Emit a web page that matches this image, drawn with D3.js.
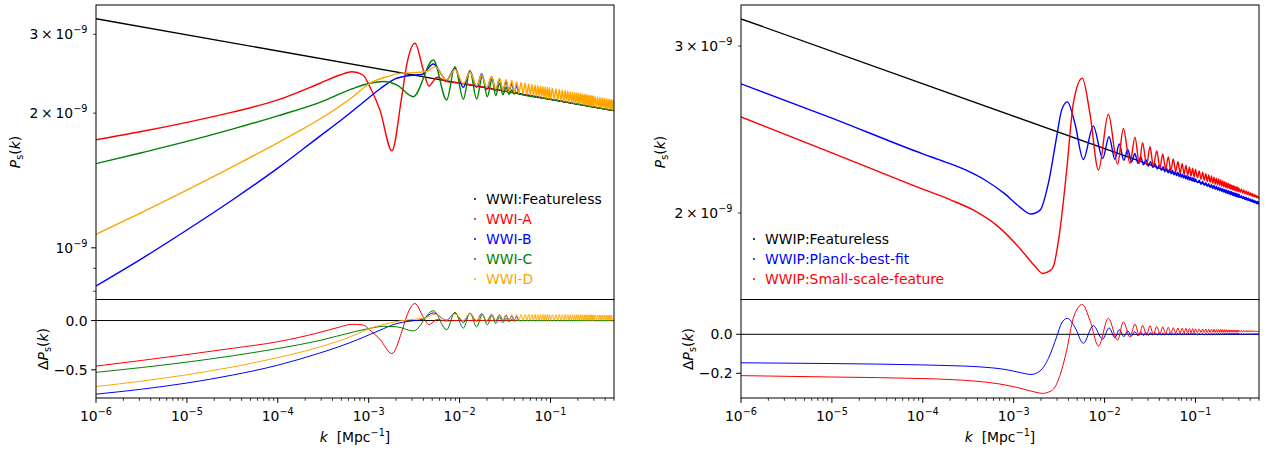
<!DOCTYPE html>
<html><head><meta charset="utf-8">
<script src="https://cdn.jsdelivr.net/npm/d3@7"></script>
<style>body{margin:0;background:#fff}svg{display:block}text{font-family:"DejaVu Sans",sans-serif;}</style>
</head><body>
<script>
// ---------------- DATA (P in units of 1e-9, dP = P/P0 - 1) ----------------
// shared dense k grid for the high-k oscillation bands
const kDenseLowL = [0.0225,0.025,0.0275,0.03,0.0325,0.035,0.0375,0.04,0.0425,0.045,0.0475,0.05,0.0525,0.055,0.0575,0.06,0.0625,0.065,0.0675,0.07,0.0725,0.075,0.0775,0.08,0.0825,0.085,0.0875,0.09,0.0925,0.095,0.0975,0.1];
const kDenseHigh = [0.105,0.11,0.115,0.12,0.125,0.13,0.135,0.14,0.145,0.15,0.155,0.16,0.165,0.17,0.175,0.18,0.185,0.19,0.195,0.2,0.205,0.21,0.215,0.22,0.225,0.23,0.235,0.24,0.245,0.25,0.255,0.26,0.265,0.27,0.275,0.28,0.285,0.29,0.295,0.3,0.31,0.32,0.33,0.34,0.35,0.36,0.37,0.38,0.39,0.4,0.41,0.42,0.43,0.44,0.45,0.46,0.47,0.48,0.49,0.5];

// Left panel: WWI
const kBlackL = [1e-6, 0.5];
const pBlackL = [3.25, 2.026];
const dBlackL = [0, 0];

const kRedL = [1e-6,3.16e-6,1e-5,3.16e-5,1e-4,2.91e-4,4.83e-4,6.55e-4,8.65e-4,1.03e-3,1.33e-3,1.80e-3,2.31e-3,2.62e-3,3.23e-3,3.99e-3,4.60e-3,5.64e-3,7.08e-3,1e-2,0.03,0.5];
const pRedL = [1.744,1.819,1.907,2.010,2.140,2.332,2.433,2.475,2.433,2.291,2.032,1.648,2.176,2.562,2.864,2.497,2.300,2.405,2.355,2.335,2.243,2.026];
const dRedL = [-0.463,-0.405,-0.345,-0.282,-0.215,-0.12,-0.065,-0.038,-0.045,-0.096,-0.19,-0.336,-0.115,0.046,0.172,0.036,-0.041,0.01,-0.004,0.001,0,0];

const kBlueL = [1e-6,3.16e-6,1e-5,3.16e-5,1e-4,2.91e-4,4.83e-4,8.02e-4,1.33e-3,1.95e-3,2.84e-3,3.85e-3,5.14e-3,7.21e-3,8.89e-3,1.10e-2,1.30e-2,1.54e-2,1.75e-2,1.99e-2,2.25e-2,0.025,0.0275,0.03,0.0325,0.035,0.0375,0.04,0.0425,0.045,0.06,0.5];
const pBlueL = [0.822,0.945,1.096,1.279,1.507,1.777,1.920,2.085,2.264,2.384,2.427,2.440,2.575,2.371,2.519,2.284,2.484,2.284,2.446,2.260,2.408,2.248,2.381,2.243,2.352,2.235,2.327,2.227,2.304,2.211,2.188,2.026];
const dBlueL = [-0.747,-0.697,-0.634,-0.554,-0.453,-0.329,-0.262,-0.184,-0.098,-0.036,-0.006,0.010,0.077,0.004,0.075,-0.018,0.074,-0.006,0.070,-0.007,0.063,-0.004,0.058,0,0.052,0.002,0.046,0.003,0.04,0,0,0];

const kGreenL = [1e-6,3.16e-6,1e-5,3.16e-5,1e-4,2.91e-4,6.78e-4,1.03e-3,1.47e-3,2.05e-3,3.10e-3,5.14e-3,7.21e-3,8.89e-3,1.10e-2,1.30e-2,1.54e-2,1.78e-2,2.02e-2,0.0228,0.025,0.0275,0.03,0.0325,0.035,0.0375,0.04,0.0425,0.045,0.1,0.5];
const pGreenL = [1.542,1.631,1.729,1.842,1.972,2.114,2.272,2.332,2.353,2.311,2.176,2.629,2.139,2.540,2.147,2.487,2.149,2.421,2.176,2.383,2.189,2.329,2.198,2.285,2.204,2.252,2.207,2.224,2.211,2.147,2.026];
const dGreenL = [-0.526,-0.477,-0.422,-0.358,-0.284,-0.202,-0.116,-0.079,-0.059,-0.064,-0.106,0.100,-0.094,0.084,-0.077,0.076,-0.064,0.060,-0.044,0.052,-0.03,0.035,-0.02,0.022,-0.012,0.012,-0.006,0.004,0,0,0];

const kOrangeLA = [1e-6,3.16e-6,1e-5,3.16e-5,1e-4,1.75e-4,2.91e-4,6.71e-4,1.03e-3,1.59e-3,2.21e-3,3.40e-3,4.38e-3,5.36e-3,7.21e-3,8.89e-3,1.10e-2,1.30e-2,1.54e-2,1.75e-2,1.99e-2];
const pOrangeLA = [1.072,1.199,1.345,1.516,1.717,1.827,1.940,2.176,2.332,2.412,2.454,2.465,2.48,2.540,2.371,2.503,2.323,2.471,2.30,2.433,2.279];
const dOrangeLA = [-0.670,-0.615,-0.550,-0.472,-0.376,-0.323,-0.268,-0.154,-0.079,-0.032,-0.004,0.016,0.032,0.065,0.004,0.068,-0.001,0.069,0.001,0.064,0.001];
const pOrangeLB = [2.411,2.262,2.392,2.247,2.377,2.235,2.365,2.224,2.352,2.215,2.343,2.206,2.335,2.199,2.325,2.192,2.318,2.186,2.312,2.180,2.303,2.174,2.298,2.169,2.293,2.165,2.287,2.160,2.283,2.155,2.278,2.151,
  2.272,2.144,2.265,2.138,2.258,2.131,2.252,2.126,2.246,2.120,2.239,2.115,2.233,2.110,2.228,2.106,2.224,2.102,2.221,2.099,2.216,2.095,2.212,2.092,2.207,2.089,2.204,2.085,2.201,2.082,2.197,2.079,2.194,2.076,2.191,2.074,2.188,2.071,2.186,2.068,
  2.180,2.063,2.174,2.059,2.169,2.054,2.164,2.050,2.160,2.046,2.154,2.042,2.150,2.039,2.148,2.036,2.144,2.032,2.141,2.030];
const dOrangeLB = [0.064,0.002,0.063,0.002,0.063,0.002,0.063,0.002,0.062,0.002,0.062,0.002,0.062,0.002,0.061,0.002,0.061,0.002,0.061,0.002,0.060,0.002,0.060,0.002,0.060,0.002,0.060,0.002,0.060,0.002,0.060,0.002,
  0.060,0.002,0.060,0.002,0.060,0.002,0.060,0.002,0.060,0.002,0.059,0.002,0.059,0.002,0.059,0.002,0.059,0.002,0.059,0.002,0.059,0.002,0.059,0.002,0.058,0.002,0.058,0.002,0.058,0.002,0.058,0.002,0.058,0.002,0.058,0.002,0.058,0.002,
  0.057,0.002,0.057,0.002,0.057,0.002,0.057,0.002,0.057,0.002,0.056,0.002,0.056,0.002,0.056,0.002,0.056,0.002,0.056,0.002];

// Right panel: WWIP
const kBlackR = [1e-6, 0.5];
const pBlackR = [3.205, 2.046];
const dBlackR = [0, 0];

const kBlueRA = [1e-6,1e-5,1e-4,1.75e-4,2.91e-4,4.83e-4,8.02e-4,1.17e-3,1.55e-3,1.95e-3,2.41e-3,2.97e-3,3.37e-3,3.89e-3,4.72e-3,5.83e-3,7.52e-3,9.53e-3,1.12e-2,1.30e-2,1.45e-2,1.63e-2,1.80e-2,1.98e-2,2.15e-2,2.33e-2,2.50e-2,2.68e-2,2.85e-2,3.03e-2,3.2e-2,
  0.034,0.036,0.038,0.04,0.042,0.044,0.046,0.048,0.05,0.052,0.054,0.056,0.058,0.06,0.062,0.064,0.066,0.068,0.07,0.072,0.074,0.076,0.078,0.08,0.082,0.084,0.086,0.088,0.09,0.092,0.094,0.096,0.098,0.1];
const pBlueRA = [2.737,2.519,2.309,2.265,2.222,2.167,2.095,2.029,1.995,2.014,2.151,2.407,2.568,2.62,2.486,2.278,2.47,2.284,2.407,2.278,2.365,2.273,2.334,2.264,2.311,2.256,2.292,2.248,2.277,2.241,2.266,
  2.234,2.254,2.226,2.246,2.218,2.238,2.211,2.231,2.205,2.225,2.200,2.219,2.194,2.213,2.190,2.208,2.185,2.203,2.181,2.198,2.177,2.194,2.173,2.190,2.170,2.186,2.166,2.182,2.163,2.179,2.160,2.176,2.157,2.173];
const dBlueRA = [-0.146,-0.150,-0.157,-0.160,-0.163,-0.169,-0.180,-0.196,-0.206,-0.188,-0.124,-0.013,0.058,0.082,0.036,-0.046,0.045,-0.025,0.033,-0.017,0.024,-0.012,0.018,-0.009,0.014,-0.007,0.011,-0.006,0.009,-0.005,0.008,
  -0.004,0.007,-0.004,0.007,-0.004,0.0068,-0.0038,0.0066,-0.0038,0.0064,-0.0036,0.0062,-0.0036,0.006,-0.0034,0.0058,-0.0034,0.0056,-0.0032,0.0055,-0.0032,0.0054,-0.0032,0.0053,-0.003,0.0052,-0.003,0.0051,-0.003,0.005,-0.003,0.005,-0.003,0.005];
const pBlueRB = [2.152,2.166,2.145,2.159,2.139,2.153,2.134,2.148,2.128,2.143,2.123,2.138,2.119,2.134,2.115,2.130,2.111,2.126,2.107,2.122,2.103,2.118,2.100,2.115,2.097,2.112,2.094,2.109,2.091,2.106,2.088,2.103,2.085,2.100,2.082,2.098,2.080,2.095,2.077,2.093,
  2.076,2.086,2.071,2.082,2.067,2.078,2.063,2.074,2.060,2.070,2.056,2.067,2.053,2.063,2.050,2.060,2.047,2.057,2.044,2.054];
const dBlueRB = [-0.003,0.005,-0.003,0.005,-0.003,0.005,-0.003,0.005,-0.003,0.005,-0.003,0.005,-0.003,0.005,-0.003,0.005,-0.003,0.005,-0.003,0.005,-0.003,0.005,-0.003,0.005,-0.003,0.005,-0.003,0.005,-0.003,0.005,-0.003,0.005,-0.003,0.005,-0.003,0.005,-0.003,0.005,-0.003,0.005,
  -0.002,0.004,-0.002,0.004,-0.002,0.004,-0.002,0.004,-0.002,0.004,-0.002,0.004,-0.002,0.004,-0.002,0.004,-0.002,0.004,-0.002,0.004];

const kRedRA = [1e-6,1e-5,1e-4,1.99e-4,3.75e-4,7.06e-4,1.17e-3,1.71e-3,2.08e-3,2.51e-3,2.73e-3,3.23e-3,3.83e-3,4.53e-3,5.69e-3,6.90e-3,8.57e-3,1.10e-2,1.39e-2,1.61e-2,1.90e-2,2.16e-2,2.41e-2,2.62e-2,2.90e-2,3.16e-2,3.44e-2,3.75e-2,4.07e-2,4.36e-2,4.7e-2,5.02e-2,5.36e-2,5.70e-2,0.0606,0.0642,0.0678,0.0714,0.075,0.0786,0.0822,0.0858,0.0894,0.093,0.0966,0.1];
const pRedRA = [2.526,2.315,2.119,2.066,2.010,1.928,1.835,1.758,1.727,1.739,1.756,1.919,2.220,2.610,2.775,2.547,2.220,2.542,2.252,2.456,2.256,2.404,2.256,2.372,2.247,2.349,2.241,2.326,2.232,2.308,2.225,2.292,2.218,2.280,2.212,2.265,2.204,2.255,2.198,2.245,2.192,2.236,2.188,2.230,2.182,2.223];
const dRedRA = [-0.212,-0.219,-0.227,-0.232,-0.240,-0.255,-0.276,-0.296,-0.303,-0.293,-0.282,-0.211,-0.0815,0.083,0.153,0.072,-0.060,0.082,-0.030,0.064,-0.015,0.052,-0.006,0.046,-0.004,0.044,-0.001,0.040,0.001,0.038,0.003,0.036,0.004,0.034,0.006,0.032,0.006,0.031,0.007,0.030,0.007,0.029,0.008,0.029,0.008,0.028];
const pRedRB = [2.178,2.215,2.171,2.208,2.165,2.201,2.159,2.194,2.155,2.188,2.150,2.182,2.145,2.177,2.142,2.172,2.138,2.167,2.134,2.162,2.131,2.158,2.127,2.153,2.124,2.149,2.122,2.145,2.119,2.141,2.116,2.138,2.114,2.135,2.111,2.132,2.109,2.129,2.106,2.126,
  2.103,2.121,2.099,2.115,2.095,2.110,2.092,2.106,2.088,2.101,2.085,2.097,2.082,2.093,2.079,2.089,2.077,2.085,2.074,2.081];
const dRedRB = [0.009,0.028,0.009,0.0275,0.009,0.027,0.009,0.0265,0.0095,0.026,0.0095,0.0255,0.0095,0.0252,0.0097,0.0248,0.0098,0.0244,0.0099,0.024,0.010,0.0236,0.010,0.0232,0.0102,0.0228,0.0104,0.0224,0.0105,0.022,0.0106,0.0218,0.0107,0.0216,0.0108,0.0214,0.0109,0.0212,0.011,0.021,
  0.011,0.0206,0.0113,0.0202,0.0115,0.0198,0.0117,0.0194,0.0119,0.019,0.0121,0.0186,0.0123,0.0182,0.0125,0.0178,0.0127,0.0174,0.0129,0.017];

const xTickExps = [-6,-5,-4,-3,-2,-1];
const legendL = ["WWI:Featureless","WWI-A","WWI-B","WWI-C","WWI-D"];
const legendR = ["WWIP:Featureless","WWIP:Planck-best-fit","WWIP:Small-scale-feature"];

// ---------------- DRAWING ----------------
const W = 1266, H = 452, FS = 13.9;
const svg = d3.select("body").append("svg").attr("width", W).attr("height", H);
svg.append("rect").attr("width", W).attr("height", H).attr("fill", "#fff");

function mathText(g, x, y, parts, anchor) {
  const t = g.append("text").attr("x", x).attr("y", y).attr("text-anchor", anchor || "start")
    .attr("font-size", FS).attr("fill", "#000");
  let shift = 0;
  parts.forEach(p => {
    const ts = t.append("tspan").text(p.t);
    let target = p.sup ? -6 : (p.sub ? 3 : 0);
    if (target !== shift) { ts.attr("dy", target - shift); shift = target; }
    if (p.sup || p.sub) ts.attr("font-size", FS * 0.7);
    if (p.it) ts.attr("font-style", "italic");
  });
  return t;
}

function drawPanel(cfg) {
  const yMid = 299.5, yTop = 5, yBot = 398;
  const x = d3.scaleLog().domain([1e-6, 0.5]).range([cfg.x0, cfg.x1]);
  const yT = d3.scaleLog().domain(cfg.topDom).range([yMid, yTop]);
  const yB = d3.scaleLinear().domain(cfg.botDom).range([yBot, yMid]);
  const g = svg.append("g");
  const id = cfg.id;
  const defs = svg.append("defs");
  defs.append("clipPath").attr("id", id + "t").append("rect")
    .attr("x", cfg.x0).attr("y", yTop).attr("width", cfg.x1 - cfg.x0).attr("height", yMid - yTop);
  defs.append("clipPath").attr("id", id + "b").append("rect")
    .attr("x", cfg.x0).attr("y", yMid).attr("width", cfg.x1 - cfg.x0).attr("height", yBot - yMid);

  const gt = g.append("g").attr("clip-path", `url(#${id}t)`);
  const gb = g.append("g").attr("clip-path", `url(#${id}b)`);
  cfg.series.forEach(s => {
    const idx = d3.range(s.k.length);
    const lt = d3.line().x(i => x(s.k[i])).y(i => yT(s.p[i])).curve(d3.curveMonotoneX);
    const lb = d3.line().x(i => x(s.k[i])).y(i => yB(s.d[i])).curve(d3.curveMonotoneX);
    gt.append("path").attr("d", lt(idx)).attr("fill", "none").attr("stroke", s.c).attr("stroke-width", 1.4);
    gb.append("path").attr("d", lb(idx)).attr("fill", "none").attr("stroke", s.c).attr("stroke-width", 1.0);
  });

  // frames
  g.append("rect").attr("x", cfg.x0).attr("y", yTop).attr("width", cfg.x1 - cfg.x0).attr("height", yMid - yTop)
    .attr("fill", "none").attr("stroke", "#000").attr("stroke-width", 1);
  g.append("rect").attr("x", cfg.x0).attr("y", yMid).attr("width", cfg.x1 - cfg.x0).attr("height", yBot - yMid)
    .attr("fill", "none").attr("stroke", "#000").attr("stroke-width", 1);

  // x ticks (bottom panel)
  const ax = g.append("g");
  xTickExps.forEach(e => {
    const v = Math.pow(10, e);
    ax.append("line").attr("x1", x(v)).attr("x2", x(v)).attr("y1", yBot).attr("y2", yBot + 4.9).attr("stroke", "#000").attr("stroke-width", 1);
    mathText(ax, x(v), 420.5, [{t: "10"}, {t: "\u2212" + (-e), sup: true}], "middle");
    for (let m = 2; m <= 9; m++) {
      const vm = m * v;
      if (vm > 0.5 + 1e-9) break;
      ax.append("line").attr("x1", x(vm)).attr("x2", x(vm)).attr("y1", yBot).attr("y2", yBot + 2.8).attr("stroke", "#000").attr("stroke-width", 0.8);
    }
  });
  const xc = (cfg.x0 + cfg.x1) / 2;
  mathText(ax, xc, 441.5, [{t: "k", it: true}, {t: "\u00a0\u00a0[Mpc"}, {t: "\u22121", sup: true}, {t: "]"}], "middle");

  // y ticks top
  cfg.topTicks.forEach(tk => {
    const len = tk.major ? 4.9 : 2.8;
    ax.append("line").attr("x1", cfg.x0 - len).attr("x2", cfg.x0).attr("y1", yT(tk.v)).attr("y2", yT(tk.v)).attr("stroke", "#000").attr("stroke-width", tk.major ? 1 : 0.8);
    if (tk.lab) mathText(ax, cfg.x0 - 8.5, yT(tk.v) + 5, [{t: tk.lab}, {t: "\u22129", sup: true}], "end");
  });
  // y ticks bottom
  cfg.botTicks.forEach(tk => {
    ax.append("line").attr("x1", cfg.x0 - 4.9).attr("x2", cfg.x0).attr("y1", yB(tk.v)).attr("y2", yB(tk.v)).attr("stroke", "#000").attr("stroke-width", 1);
    mathText(ax, cfg.x0 - 8.5, yB(tk.v) + 5, [{t: tk.lab}], "end");
  });

  // y labels
  const yl1 = mathText(ax, 0, 0, [{t: "P", it: true}, {t: "s", sub: true}, {t: "("}, {t: "k", it: true}, {t: ")"}], "middle");
  yl1.attr("transform", `translate(${cfg.ylabT},152) rotate(-90)`);
  const yl2 = mathText(ax, 0, 0, [{t: "\u0394"}, {t: "P", it: true}, {t: "s", sub: true}, {t: "("}, {t: "k", it: true}, {t: ")"}], "middle");
  yl2.attr("transform", `translate(${cfg.ylabB},349) rotate(-90)`);

  // legend
  cfg.legend.forEach((lg, i) => {
    const yy = cfg.legY0 + i * 20;
    ax.append("line").attr("x1", cfg.legX - 12).attr("x2", cfg.legX - 10).attr("y1", yy).attr("y2", yy).attr("stroke", lg.c).attr("stroke-width", 1.4);
    ax.append("text").attr("x", cfg.legX).attr("y", yy + 5).attr("font-size", FS).attr("fill", lg.c).text(lg.t);
  });
}

drawPanel({
  id: "L", x0: 96, x1: 614,
  topDom: [0.7666, 3.488], botDom: [-0.786, 0.2135],
  series: [
    {k: kBlackL, p: pBlackL, d: dBlackL, c: "black"},
    {k: kRedL, p: pRedL, d: dRedL, c: "red"},
    {k: kBlueL, p: pBlueL, d: dBlueL, c: "blue"},
    {k: kGreenL, p: pGreenL, d: dGreenL, c: "green"},
    {k: kOrangeLA.concat(kDenseLowL, kDenseHigh), p: pOrangeLA.concat(pOrangeLB), d: dOrangeLA.concat(dOrangeLB), c: "orange"}
  ],
  topTicks: [{v: 0.8}, {v: 0.9}, {v: 1, major: true, lab: "10"}, {v: 2, lab: "2\u2009\u00d7\u200910"}, {v: 3, lab: "3\u2009\u00d7\u200910"}],
  botTicks: [{v: 0, lab: "0.0"}, {v: -0.5, lab: "\u22120.5"}],
  ylabT: 20, ylabB: 48,
  legend: legendL.map((t, i) => ({t, c: ["black", "red", "blue", "green", "orange"][i]})),
  legX: 486, legY0: 199
});

drawPanel({
  id: "R", x0: 741, x1: 1259,
  topDom: [1.621, 3.315], botDom: [-0.3267, 0.1785],
  series: [
    {k: kBlackR, p: pBlackR, d: dBlackR, c: "black"},
    {k: kBlueRA.concat(kDenseHigh), p: pBlueRA.concat(pBlueRB), d: dBlueRA.concat(dBlueRB), c: "blue"},
    {k: kRedRA.concat(kDenseHigh), p: pRedRA.concat(pRedRB), d: dRedRA.concat(dRedRB), c: "red"}
  ],
  topTicks: [{v: 2, lab: "2\u2009\u00d7\u200910"}, {v: 3, lab: "3\u2009\u00d7\u200910"}],
  botTicks: [{v: 0, lab: "0.0"}, {v: -0.2, lab: "\u22120.2"}],
  ylabT: 665, ylabB: 693,
  legend: legendR.map((t, i) => ({t, c: ["black", "blue", "red"][i]})),
  legX: 765, legY0: 239
});
</script>
</body></html>
